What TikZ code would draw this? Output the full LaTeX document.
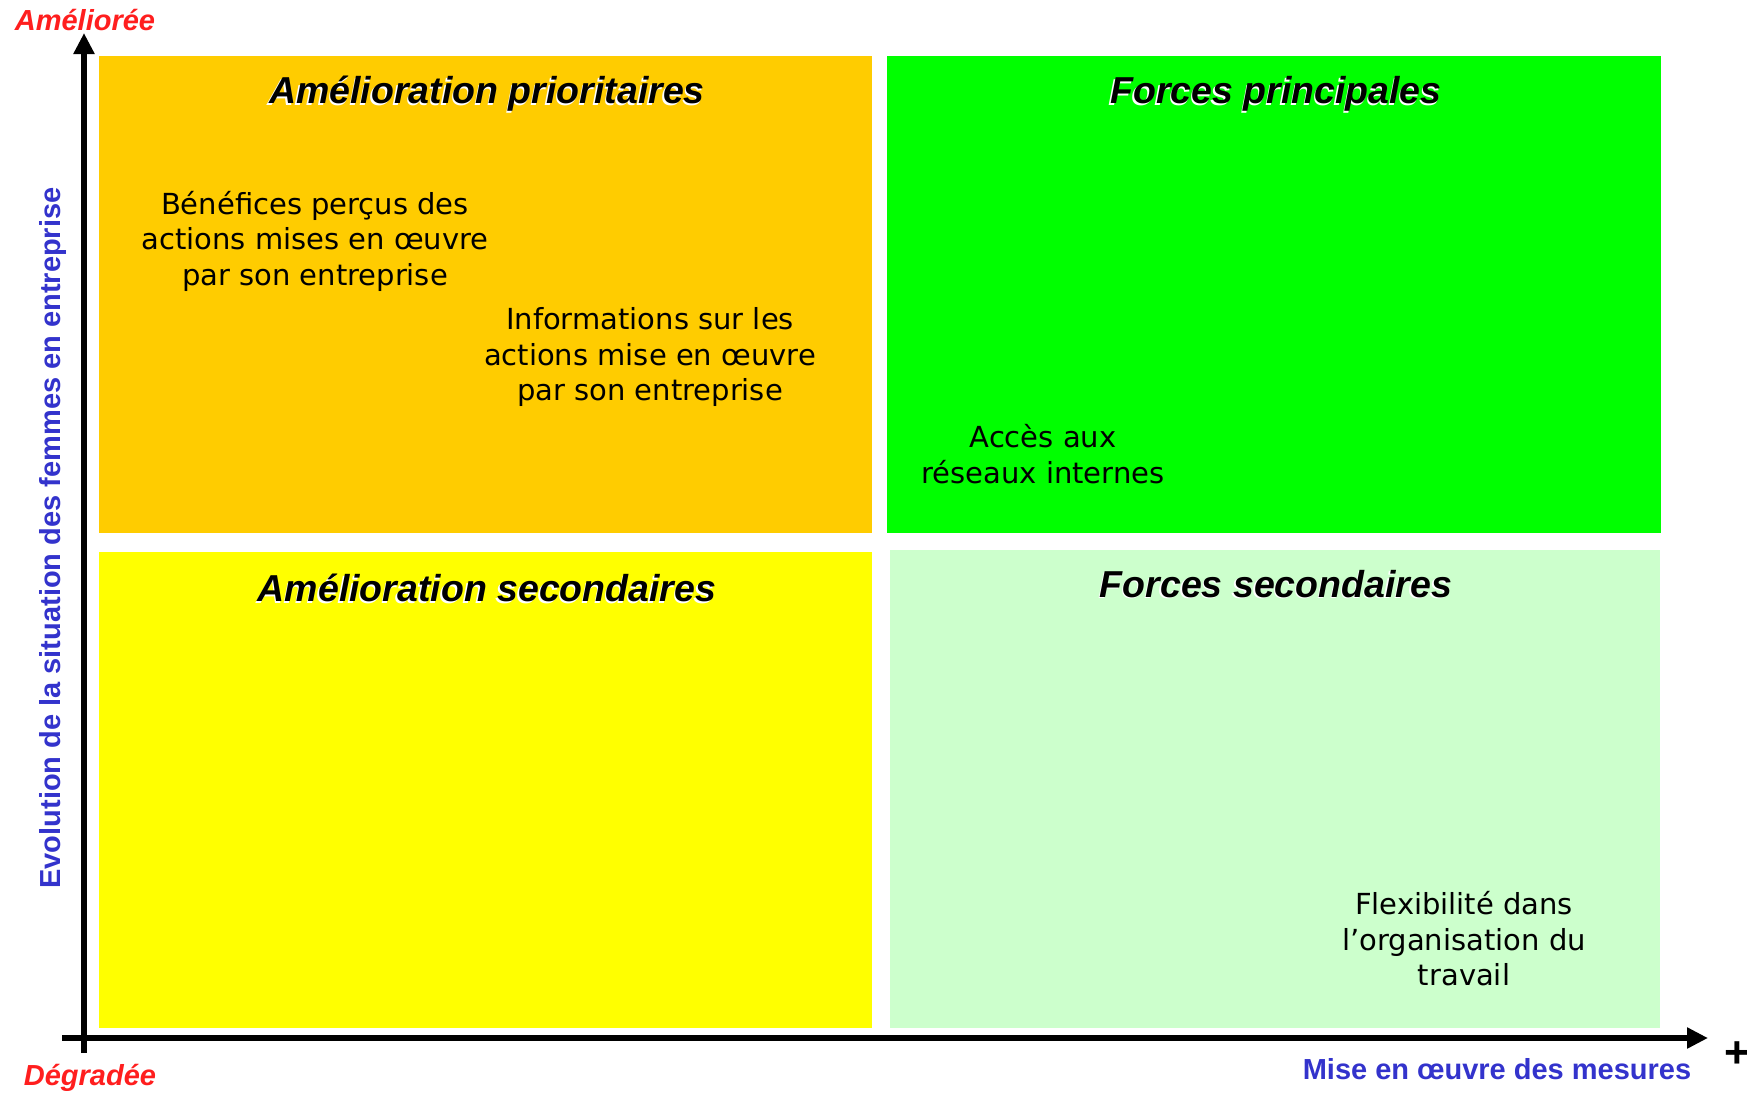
\documentclass[tikz,border=0pt]{standalone}
\usepackage{fontspec}
\usepackage{tikz}
\usetikzlibrary{arrows.meta}
\setmainfont{Liberation Sans}
\newfontfamily\verd{DejaVu Sans}
\definecolor{prio}{RGB}{255,204,0}
\definecolor{forte}{RGB}{0,255,0}
\definecolor{second}{RGB}{255,255,0}
\definecolor{pale}{RGB}{204,255,204}
\definecolor{axered}{RGB}{255,30,30}
\definecolor{axeblue}{RGB}{51,51,204}
\tikzset{
  titre/.style={font=\bfseries\itshape\fontsize{37.5}{42}\selectfont},
  item/.style={align=center,font=\verd\fontsize{29}{35.5}\selectfont},
  axetxt/.style={font=\bfseries\fontsize{29}{34}\selectfont},
  axeit/.style={font=\bfseries\itshape\fontsize{29}{34}\selectfont},
  axe/.style={line width=6.5pt,-{Triangle[length=21pt,width=20pt]}}
}
\newcommand{\titreq}[3]{%
  \node[titre,white] (#1o) at ([shift={(-1.5,1.5)}]#2) {#3};
  \node[titre] (#1) at (#2) {#3};}
\begin{document}
\begin{tikzpicture}[x=1pt,y=-1pt]
\useasboundingbox (0,0) rectangle (1747,1093);
% quadrants
\fill[prio] (99,56) rectangle (872,533);
\fill[forte] (887,56) rectangle (1661,533);
\fill[second] (99,552) rectangle (872,1028);
\fill[pale] (890,550) rectangle (1660,1028);
\titreq{tprio}{487,94}{Amélioration prioritaires}
\titreq{tforte}{1276,94}{Forces principales}
\titreq{tsecond}{487,588}{Amélioration secondaires}
\titreq{tpale}{1276,584}{Forces secondaires}
% items
\node[item] (benef) at (315,241) {Bénéfices perçus des\\actions mises en œuvre\\par son entreprise};
\node[item] (infos) at (650,357) {Informations sur les\\actions mise en œuvre\\par son entreprise};
\node[item] (acces) at (1043,454) {Accès aux\\réseaux internes};
\node[item] (flex) at (1464,939) {Flexibilité dans\\l’organisation du\\travail};
% axes
\coordinate (ybas) at (84,1053);
\coordinate (yhaut) at (84,33);
\coordinate (xgauche) at (62,1038);
\coordinate (xdroite) at (1708,1038);
\draw[axe] (ybas) -- (yhaut);
\draw[axe] (xgauche) -- (xdroite);
\node[axeit,axered] (amel) at (85,20) {Améliorée};
\node[axeit,axered] (degr) at (90,1078) {Dégradée};
\node[axetxt,axeblue] (mise) at (1497,1069) {Mise en œuvre des mesures};
\node[axetxt,axeblue,rotate=90] (evol) at (53,538) {Evolution de la situation des femmes en entreprise};
\node[font=\bfseries\fontsize{44}{48}\selectfont] (plus) at (1737,1055) {+};
\end{tikzpicture}
\end{document}
